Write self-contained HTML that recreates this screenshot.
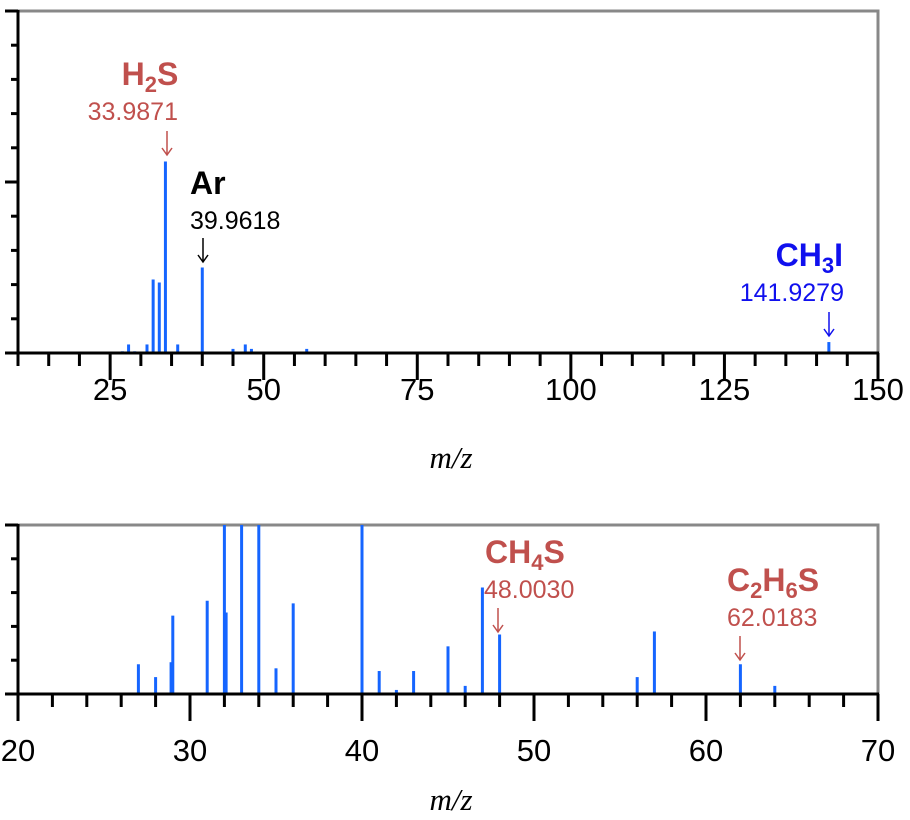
<!DOCTYPE html>
<html><head><meta charset="utf-8"><style>
body{margin:0;background:#fff;}
svg{display:block;font-family:"Liberation Sans",sans-serif;}
</style></head><body>
<svg id="chart" width="910" height="820" xmlns="http://www.w3.org/2000/svg">
<defs>
<clipPath id="clipTop"><rect x="18" y="11" width="860" height="342"/></clipPath>
<clipPath id="clipBot"><rect x="18" y="525" width="860" height="169"/></clipPath>
</defs>
<g id="top"></g>
<g id="bot"></g>
<g>
<text x="150" y="85" text-anchor="middle" font-size="32" font-weight="bold" fill="#c0504d">H<tspan font-size="22" dy="7">2</tspan><tspan dy="-7">S</tspan></text>
<text x="178" y="120" text-anchor="end" font-size="25" fill="#c0504d">33.9871</text>
<g stroke="#c0504d" stroke-width="1.5" fill="none"><path d="M167 131 V155 M162 148 L167 155 L172 148"/></g>
<text x="190" y="194" font-size="32" font-weight="bold" fill="#000">Ar</text>
<text x="190" y="229" font-size="25" fill="#000">39.9618</text>
<g stroke="#000" stroke-width="1.5" fill="none"><path d="M203 238 V262 M198 255 L203 262 L208 255"/></g>
<text x="843" y="266" text-anchor="end" font-size="32" font-weight="bold" fill="#1010ee">CH<tspan font-size="22" dy="7">3</tspan><tspan dy="-7">I</tspan></text>
<text x="844" y="301" text-anchor="end" font-size="25" fill="#1010ee">141.9279</text>
<g stroke="#1010ee" stroke-width="1.5" fill="none"><path d="M829 312 V336 M824 329 L829 336 L834 329"/></g>
<text x="485" y="563" font-size="32" font-weight="bold" fill="#c0504d">CH<tspan font-size="22" dy="7">4</tspan><tspan dy="-7">S</tspan></text>
<text x="484" y="598" font-size="25" fill="#c0504d">48.0030</text>
<g stroke="#c0504d" stroke-width="1.5" fill="none"><path d="M498 608 V632 M493 625 L498 632 L503 625"/></g>
<text x="727" y="591" font-size="32" font-weight="bold" fill="#c0504d">C<tspan font-size="22" dy="7">2</tspan><tspan dy="-7">H</tspan><tspan font-size="22" dy="7">6</tspan><tspan dy="-7">S</tspan></text>
<text x="727" y="626" font-size="25" fill="#c0504d">62.0183</text>
<g stroke="#c0504d" stroke-width="1.5" fill="none"><path d="M740 636 V660 M735 653 L740 660 L745 653"/></g>
</g>
</svg>
<script>
// Top spectrum data
const topMz = [19, 27, 28, 29, 31, 32, 33, 34, 35, 36, 40, 41, 43, 45, 47, 48, 56, 57, 62, 127, 142];
const topInt = [0.03, 0.05, 0.25, 0.05, 0.25, 2.15, 2.06, 5.6, 0.03, 0.25, 2.5, 0.03, 0.03, 0.12, 0.25, 0.12, 0.03, 0.12, 0.03, 0.03, 0.32];
const topTicks = [25, 50, 75, 100, 125, 150];
// Bottom spectrum data
const botMz = [27, 28, 28.9, 29, 31, 32, 32.1, 33, 34, 35, 36, 39, 40, 41, 42, 43, 45, 46, 47, 48, 56, 57, 61, 62, 64];
const botInt = [0.88, 0.5, 0.94, 2.32, 2.76, 6, 2.41, 6, 6, 0.76, 2.68, 0.03, 6, 0.68, 0.12, 0.68, 1.41, 0.24, 3.15, 1.76, 0.5, 1.85, 0.03, 0.88, 0.24];
const botTicks = [20, 30, 40, 50, 60, 70];

const NS = "http://www.w3.org/2000/svg";
function mk(parent, tag, attrs){const e=document.createElementNS(NS,tag);for(const k in attrs)e.setAttribute(k,attrs[k]);parent.appendChild(e);return e;}

function drawPanel(g, cfg){
  const {x0,x1,y0,y1,xmin,xmax,ymax,mz,inten,ticks,minorStep,yTickN,clip,labelY,titleY} = cfg;
  const sx = v => x0 + (v - xmin) / (xmax - xmin) * (x1 - x0);
  const sy = v => y0 - v / ymax * (y0 - y1);
  const fr = mk(g,'path',{d:`M${x0} ${y1} H${x1} V${y0}`,fill:'none',stroke:'#888',"stroke-width":3});
  
  
  const bg = mk(g,'g',{"clip-path":`url(#${clip})`});
  for(let i=0;i<mz.length;i++){
    const b = mk(bg,'line',{x1:sx(mz[i]),x2:sx(mz[i]),y1:y0,y2:sy(inten[i]),stroke:'#1565ff',"stroke-width":3});
    
    
  }
  const ya = mk(g,'line',{x1:x0,x2:x0,y1:y1-1,y2:y0,stroke:'#000',"stroke-width":3});
  
  
  for(let i=0;i<=yTickN;i++){
    const y = sy(i*ymax/yTickN);
    const major = (i===yTickN) || (cfg.yMajor && cfg.yMajor.includes(i));
    const t = mk(g,'line',{x1:x0-(major?13:7),x2:x0,y1:y,y2:y,stroke:'#000',"stroke-width":3});
    
    
  }
  const xa = mk(g,'line',{x1:x0-13,x2:x1+1,y1:y0,y2:y0,stroke:'#000',"stroke-width":3});
  
  
  for(let v=xmin; v<=xmax+1e-9; v+=minorStep){
    const major = ticks.includes(v);
    const t = mk(g,'line',{x1:sx(v),x2:sx(v),y1:y0,y2:y0+(major?27:13),stroke:'#000',"stroke-width":3});
    
    
  }
  ticks.forEach(v=>{
    const t = mk(g,'text',{x:sx(v),y:labelY,"text-anchor":'middle',"font-size":31,fill:'#000'});
    t.textContent = v;
    
    
  });
  const tt = mk(g,'text',{x:(x0+x1)/2+3,y:titleY,"text-anchor":'middle',"font-size":31,"font-style":'italic',"font-family":'"Liberation Serif",serif',fill:'#000'});
  tt.textContent = 'm/z';
  
  
}

drawPanel(document.getElementById('top'),{x0:18,x1:878,y0:353,y1:11,xmin:10,xmax:150,ymax:10,mz:topMz,inten:topInt,ticks:topTicks,minorStep:5,yTickN:10,yMajor:[5],clip:'clipTop',labelY:400,titleY:468});
drawPanel(document.getElementById('bot'),{x0:18,x1:878,y0:694,y1:525,xmin:20,xmax:70,ymax:5,mz:botMz,inten:botInt,ticks:botTicks,minorStep:2,yTickN:5,yMajor:[],clip:'clipBot',labelY:761,titleY:810});
</script>
</body></html>
